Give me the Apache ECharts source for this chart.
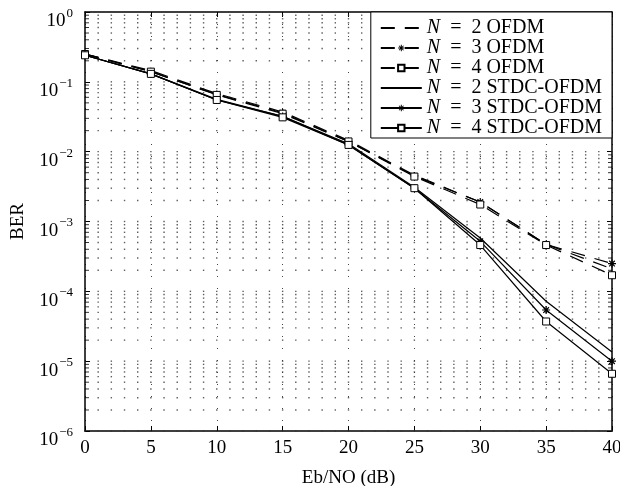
<!DOCTYPE html>
<html lang="en">
<head>
    <meta charset="UTF-8">
    <title>BER vs Eb/NO</title>
    <style>
        html, body { margin: 0; padding: 0; background: #fff; }
    </style>
</head>
<body>
<div id="main" style="width: 620px;height:486px;"></div>

<script src="https://cdn.jsdelivr.net/npm/echarts@6/dist/echarts.min.js"></script>
<script>
    // Eb/NO (dB)
    var snr = [0, 5, 10, 15, 20, 25, 30, 35, 40];

    // BER
    var n2Ofdm = [0.25, 0.145, 0.068, 0.037, 0.0145, 0.0046, 0.0019, 0.00047, 0.00021];
    var n3Ofdm = [0.25, 0.14, 0.066, 0.036, 0.014, 0.0045, 0.0019, 0.00047, 0.00025];
    var n4Ofdm = [0.25, 0.14, 0.065, 0.035, 0.014, 0.0044, 0.00175, 0.00046, 0.00017];
    var n2Stdc = [0.24, 0.13, 0.056, 0.032, 0.013, 0.0031, 0.00058, 0.000072, 0.0000135];
    var n3Stdc = [0.24, 0.13, 0.055, 0.032, 0.0125, 0.003, 0.00052, 0.000054, 0.00001];
    var n4Stdc = [0.24, 0.13, 0.055, 0.031, 0.0125, 0.003, 0.00046, 0.000037, 0.0000066];

    var seriesNames = ['N = 2 OFDM', 'N = 3 OFDM', 'N = 4 OFDM',
        'N = 2 STDC-OFDM', 'N = 3 STDC-OFDM', 'N = 4 STDC-OFDM'];

    var font = 'Liberation Serif';
    var asterisk = 'path://M-0.15,-1L0.15,-1L0.15,1L-0.15,1Z' +
        'M-1,-0.15L1,-0.15L1,0.15L-1,0.15Z' +
        'M-0.594,-0.806L0.806,0.594L0.594,0.806L-0.806,-0.594Z' +
        'M0.806,-0.594L-0.594,0.806L-0.806,0.594L0.594,-0.806Z';

    // matlab-style dotted grid: dots where the 1 dB columns cross the log rows
    var gridDots = [];
    var minorLeft = [];
    var minorRight = [];
    for (var k = -6; k < 0; k++) {
        for (var m = 1; m <= 9; m++) {
            var v = m * Math.pow(10, k);
            for (var x = 0; x <= 40; x++) {
                gridDots.push([x, v]);
            }
            if (m > 1) {
                minorLeft.push([0, v]);
                minorRight.push([40, v]);
            }
        }
    }

    var pairs = function (ys) {
        var res = [];
        for (var i = 0; i < snr.length; i++) {
            res.push([snr[i], ys[i]]);
        }
        return res;
    };

    var makeSeries = function (name, ys, dashed, marker) {
        var itemStyle = {color: '#000'};
        if (marker === 'square') {
            itemStyle = {color: '#fff', borderColor: '#000', borderWidth: 1};
        } else if (marker === 'none') {
            itemStyle = {color: 'rgba(0,0,0,0)', borderWidth: 0};
        }
        return {
            name: name,
            type: 'line',
            data: pairs(ys),
            showSymbol: marker !== 'none',
            symbol: marker === 'star' ? asterisk : 'rect',
            symbolSize: marker === 'star' ? 8 : 7,
            lineStyle: {color: '#000', width: 1.2, type: dashed ? [14, 10] : 'solid'},
            itemStyle: itemStyle,
            emphasis: {disabled: true},
            z: 5
        };
    };

    var minorTicks = function (name, data, dx) {
        return {
            name: name,
            type: 'scatter',
            data: data,
            symbol: 'rect',
            symbolSize: [4, 1],
            symbolOffset: [dx, 0],
            itemStyle: {color: '#000'},
            silent: true,
            z: 3
        };
    };

    var series = [
        {
            name: 'grid',
            type: 'scatter',
            data: gridDots,
            symbol: 'rect',
            symbolSize: 1.4,
            itemStyle: {color: '#333'},
            silent: true,
            z: 1
        },
        minorTicks('minorLeft', minorLeft, 2),
        minorTicks('minorRight', minorRight, -2),
        makeSeries(seriesNames[0], n2Ofdm, true, 'none'),
        makeSeries(seriesNames[1], n3Ofdm, true, 'star'),
        makeSeries(seriesNames[2], n4Ofdm, true, 'square'),
        makeSeries(seriesNames[3], n2Stdc, false, 'none'),
        makeSeries(seriesNames[4], n3Stdc, false, 'star'),
        makeSeries(seriesNames[5], n4Stdc, false, 'square')
    ];

    var chart = echarts.init(document.getElementById('main'));
    chart.setOption({
        backgroundColor: '#fff',
        animation: false,
        textStyle: {fontFamily: font, color: '#000'},
        grid: {left: 85, right: 8, top: 12, bottom: 55, outerBoundsMode: 'none', containLabel: false},
        legend: {
            orient: 'vertical',
            right: 8,
            top: 12,
            z: 10,
            data: seriesNames,
            backgroundColor: '#fff',
            borderColor: '#000',
            borderWidth: 1,
            borderRadius: 0,
            padding: [6, 10, 0, 9],
            itemGap: 0,
            itemWidth: 41,
            itemHeight: 8,
            formatter: function (name) {
                return '{i|N}' + name.slice(1).replace(' = ', '  =  ');
            },
            textStyle: {
                fontFamily: font,
                fontSize: 20,
                color: '#000',
                rich: {
                    i: {fontStyle: 'italic', fontFamily: font, fontSize: 20}
                }
            }
        },
        xAxis: [{
            type: 'value',
            min: 0,
            max: 40,
            interval: 5,
            name: 'Eb/NO (dB)',
            nameLocation: 'middle',
            nameGap: 38,
            nameTextStyle: {fontFamily: font, fontSize: 19, color: '#000'},
            axisLine: {lineStyle: {color: '#000', width: 1.5}},
            axisTick: {inside: true, length: 5, lineStyle: {color: '#000'}},
            axisLabel: {fontFamily: font, fontSize: 19, color: '#000', margin: 8},
            splitLine: {show: true, lineStyle: {type: [1, 11], color: '#444', width: 1}}
        }, {
            type: 'value',
            position: 'top',
            min: 0,
            max: 40,
            interval: 5,
            axisLine: {onZero: false, lineStyle: {color: '#000', width: 1.5}},
            axisTick: {inside: true, length: 5, lineStyle: {color: '#000'}},
            axisLabel: {show: false},
            splitLine: {show: false}
        }],
        yAxis: [{
            type: 'log',
            logBase: 10,
            min: 1e-6,
            max: 1,
            name: 'BER',
            nameLocation: 'middle',
            nameGap: 57,
            nameRotate: 90,
            nameTextStyle: {fontFamily: font, fontSize: 19, color: '#000'},
            axisLine: {show: true, lineStyle: {color: '#000', width: 1.5}},
            axisTick: {show: true, inside: true, length: 5, lineStyle: {color: '#000'}},
            axisLabel: {
                margin: 12,
                padding: [14, 0, 0, 0],
                formatter: function (v) {
                    var e = Math.round(Math.log10(v));
                    return '{b|10}{s|' + (e < 0 ? '\u2212' + (-e) : e) + '}';
                },
                rich: {
                    b: {fontFamily: font, fontSize: 19, color: '#000', verticalAlign: 'bottom', lineHeight: 20},
                    s: {fontFamily: font, fontSize: 13, color: '#000', verticalAlign: 'bottom', padding: [0, 0, 11, 1]}
                }
            },
            splitLine: {show: false}
        }, {
            type: 'log',
            logBase: 10,
            min: 1e-6,
            max: 1,
            position: 'right',
            axisLine: {show: true, onZero: false, lineStyle: {color: '#000', width: 1.5}},
            axisTick: {show: true, inside: true, length: 5, lineStyle: {color: '#000'}},
            axisLabel: {show: false},
            splitLine: {show: false}
        }],
        series: series
    });
</script>
</body>
</html>
